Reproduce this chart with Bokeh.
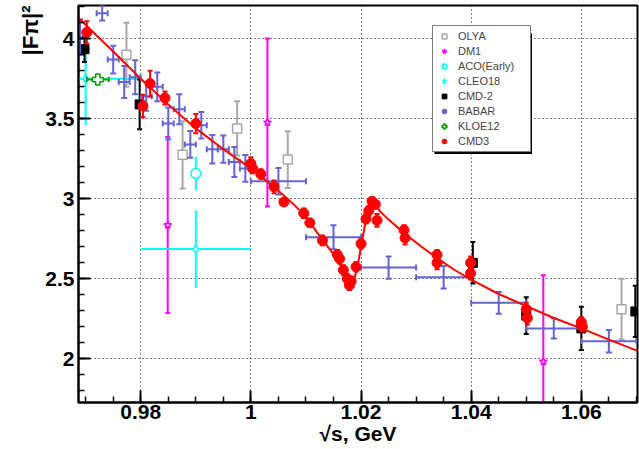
from bokeh.plotting import figure
from bokeh.models import (Range1d, Legend, LegendItem, BoxAnnotation, Title,
                          SingleIntervalTicker, CustomJSTickFormatter)
from bokeh.embed import file_html
from bokeh.resources import INLINE

# ---------------- data ----------------
cmd3_x = [0.9702, 0.9804, 0.9817, 0.9844, 0.9900, 1.0000, 1.0003, 1.0018, 1.0042, 1.0060,
          1.0096, 1.0107, 1.0130, 1.0157, 1.0161, 1.0168, 1.0175, 1.0179, 1.0182, 1.0191,
          1.0200, 1.0209, 1.0214, 1.0220, 1.0226, 1.0229, 1.0278, 1.0280, 1.0338, 1.0338,
          1.0399, 1.0399, 1.0500, 1.0502, 1.0600, 1.0602]
cmd3_y = [4.04, 3.58, 3.72, 3.63, 3.47, 3.22, 3.19, 3.155, 3.075, 2.98,
          2.91, 2.85, 2.74, 2.65, 2.625, 2.555, 2.50, 2.46, 2.485, 2.575,
          2.72, 2.875, 2.925, 2.985, 2.965, 2.865, 2.805, 2.755, 2.65, 2.60,
          2.60, 2.535, 2.31, 2.255, 2.23, 2.20]
cmd3_err = [0.07, 0.07, 0.08, 0.04, 0.06, 0.04, 0.03, 0.03, 0.04, 0.02,
            0.03, 0.02, 0.03, 0.03, 0.03, 0.03, 0.03, 0.03, 0.03, 0.03,
            0.03, 0.03, 0.03, 0.02, 0.02, 0.04, 0.03, 0.04, 0.03, 0.04,
            0.04, 0.04, 0.04, 0.04, 0.03, 0.03]

fit_x = [0.9687, 0.975, 0.980, 0.985, 0.990, 0.995, 1.000, 1.004, 1.007, 1.010,
         1.012, 1.014, 1.0155, 1.0165, 1.0172, 1.0178, 1.0183, 1.0188, 1.0193, 1.0198,
         1.0203, 1.0208, 1.0213, 1.0218, 1.0223, 1.0228, 1.0235, 1.025, 1.028, 1.031,
         1.034, 1.037, 1.040, 1.045, 1.050, 1.055, 1.060, 1.065, 1.0702]
fit_y = [4.13, 3.92, 3.75, 3.59, 3.44, 3.31, 3.19, 3.08, 2.99, 2.89,
         2.79, 2.70, 2.63, 2.57, 2.51, 2.47, 2.46, 2.50, 2.57, 2.66,
         2.76, 2.85, 2.92, 2.965, 2.975, 2.955, 2.92, 2.87, 2.78, 2.70,
         2.625, 2.555, 2.495, 2.405, 2.33, 2.255, 2.19, 2.12, 2.05]

babar_x = [0.969, 0.973, 0.975, 0.977, 0.979, 0.981, 0.983, 0.985, 0.987, 0.989,
           0.991, 0.993, 0.995, 0.997, 0.999, 1.005, 1.015, 1.025, 1.035, 1.045,
           1.055, 1.065]
babar_y = [4.01, 4.16, 3.87, 3.73, 3.76, 3.64, 3.70, 3.47, 3.56, 3.34,
           3.46, 3.31, 3.31, 3.23, 3.19, 3.11, 2.76, 2.57, 2.51, 2.35,
           2.19, 2.11]
babar_xerr = [0.001] * 15 + [0.005] * 7
babar_yerr = [0.11, 0.045, 0.087, 0.10, 0.106, 0.09, 0.09, 0.10, 0.094, 0.083,
              0.083, 0.089, 0.085, 0.094, 0.083, 0.083, 0.075, 0.07, 0.07, 0.068,
              0.063, 0.07]

olya_x = [0.9774, 0.9876, 0.9975, 1.0067, 1.0673]
olya_y = [3.90, 3.275, 3.44, 3.245, 2.31]
olya_err = [0.20, 0.21, 0.17, 0.177, 0.19]

cmd2_x = [0.9698, 0.9798, 1.0403, 1.0500, 1.0600, 1.0698]
cmd2_y = [3.935, 3.59, 2.60, 2.27, 2.19, 2.296]
cmd2_err = [0.08, 0.156, 0.13, 0.115, 0.135, 0.16]

dm1_x = [0.9849, 1.0030, 1.0531]
dm1_y = [2.836, 3.477, 1.983]
dm1_err = [0.55, 0.525, 0.54]

aco_x = [0.990]
aco_y = [3.158]
aco_err = [0.105]

cleo_x = [0.970, 0.990]
cleo_y = [3.75, 2.686]
cleo_xerr = [0.010, 0.010]
cleo_yerr = [0.29, 0.243]

kloe_x = [0.9722]
kloe_y = [3.745]
kloe_xerr = [0.002]
kloe_yerr = [0.01]

legend_labels = ["OLYA", "DM1", "ACO(Early)", "CLEO18", "CMD-2", "BABAR", "KLOE12", "CMD3"]

# ---------------- layout ----------------
X0, X1 = 0.9687, 1.0702
Y0, Y1 = 1.727, 4.208
W, H = 639, 449
BL, BR, BT, BB = 78, 2, 5, 47
FW = W - BL - BR
FH = H - BT - BB
DX = (X1 - X0) / FW   # data per pixel
DY = (Y1 - Y0) / FH


def px2x(px):
    return X0 + (px - BL) * DX


def py2y(py):
    return Y1 - (py - BT) * DY


p = figure(width=W, height=H, output_backend="svg", toolbar_location=None,
           x_range=Range1d(X0, X1), y_range=Range1d(Y0, Y1),
           min_border_left=BL, min_border_right=BR, min_border_top=BT,
           min_border_bottom=BB, title=None)
p.background_fill_color = "white"
p.border_fill_color = "white"
p.outline_line_color = "black"
p.outline_line_width = 2

fmt = CustomJSTickFormatter(code="return Number(tick.toFixed(3)).toString();")
p.xaxis.ticker = SingleIntervalTicker(interval=0.02, num_minor_ticks=4)
p.yaxis.ticker = SingleIntervalTicker(interval=0.5, num_minor_ticks=5)
for ax in (p.xaxis[0], p.yaxis[0]):
    ax.formatter = fmt
    ax.axis_line_width = 2
    ax.axis_line_color = "black"
    ax.major_tick_in = 12
    ax.major_tick_out = 0
    ax.minor_tick_in = 6
    ax.minor_tick_out = 0
    ax.major_tick_line_width = 2
    ax.minor_tick_line_width = 1.5
    ax.major_label_text_font = "Liberation Sans"
    ax.major_label_text_font_style = "bold"
    ax.major_label_text_font_size = "21px"
    ax.major_label_text_color = "black"
    ax.axis_label_text_font = "Liberation Sans"
    ax.axis_label_text_font_style = "bold"
    ax.axis_label_text_font_size = "21px"
    ax.axis_label_text_color = "black"
p.xaxis.major_label_standoff = 2
p.yaxis.major_label_standoff = 4
p.yaxis.major_label_text_align = "right"
p.yaxis.major_label_text_baseline = "middle"
p.xaxis.axis_label = "√s, GeV"
p.xaxis.axis_label_standoff = 0

ytitle = Title(text="|Fπ|²", align="right", text_font="Liberation Sans",
               text_font_style="bold", text_font_size="22px", text_color="black",
               standoff=0, offset=0)
p.add_layout(ytitle, "left")

for g in (p.xgrid[0], p.ygrid[0]):
    g.grid_line_color = "black"
    g.grid_line_dash = "1 3"
    g.grid_line_width = 1


def errbars(xs, ys, color, ylo=None, yhi=None, xlo=None, xhi=None, width=2, cap=6):
    cw = cap / 2 * DX
    ch = cap / 2 * DY
    if ylo is not None:
        y0 = [y - e for y, e in zip(ys, ylo)]
        y1 = [y + e for y, e in zip(ys, yhi)]
        p.segment(x0=xs, y0=y0, x1=xs, y1=y1, line_color=color, line_width=width)
        if cap:
            p.segment(x0=[x - cw for x in xs], y0=y0, x1=[x + cw for x in xs], y1=y0,
                      line_color=color, line_width=width)
            p.segment(x0=[x - cw for x in xs], y0=y1, x1=[x + cw for x in xs], y1=y1,
                      line_color=color, line_width=width)
    if xlo is not None:
        x0 = [x - e for x, e in zip(xs, xlo)]
        x1 = [x + e for x, e in zip(xs, xhi)]
        p.segment(x0=x0, y0=ys, x1=x1, y1=ys, line_color=color, line_width=width)
        if cap:
            p.segment(x0=x0, y0=[y - ch for y in ys], x1=x0, y1=[y + ch for y in ys],
                      line_color=color, line_width=width)
            p.segment(x0=x1, y0=[y - ch for y in ys], x1=x1, y1=[y + ch for y in ys],
                      line_color=color, line_width=width)


GRAY = "#a8a8a8"
BLUE = "#6464d2"
CYAN = "#00ffff"
MAG = "#ff00ff"
GREEN = "#00a000"
RED = "#ff0000"

# OLYA
errbars(olya_x, olya_y, GRAY, olya_err, olya_err, cap=6)
r_olya = p.scatter(olya_x, olya_y, marker="square", size=9, fill_color="white",
                   line_color=GRAY, line_width=1.5)
# DM1
errbars(dm1_x, dm1_y, MAG, dm1_err, dm1_err, cap=5)
r_dm1 = p.scatter(dm1_x, dm1_y, marker="star", size=8, fill_color="white",
                  line_color=MAG, line_width=1.5)
# CLEO18
errbars(cleo_x, cleo_y, CYAN, cleo_yerr, cleo_yerr, cleo_xerr, cleo_xerr, cap=0)
r_cleo = p.scatter(cleo_x, cleo_y, marker="diamond", size=8, fill_color="white",
                   line_color=CYAN, line_width=1.5)
# ACO
errbars(aco_x, aco_y, CYAN, aco_err, aco_err, cap=0)
r_aco = p.scatter(aco_x, aco_y, marker="circle", size=10, fill_color="white",
                  line_color=CYAN, line_width=1.5)
# CMD-2
errbars(cmd2_x, cmd2_y, "black", cmd2_err, cmd2_err, cap=5)
r_cmd2 = p.scatter(cmd2_x, cmd2_y, marker="square", size=9, fill_color="black",
                   line_color="black")
# BABAR
errbars(babar_x, babar_y, BLUE, babar_yerr, babar_yerr, babar_xerr, babar_xerr, cap=6)
r_babar = p.scatter(babar_x, babar_y, marker="circle", size=2, fill_color=BLUE,
                    line_color=BLUE)
# KLOE12
errbars(kloe_x, kloe_y, GREEN, kloe_yerr, kloe_yerr, kloe_xerr, kloe_xerr, cap=5)
r_kloe = p.scatter(kloe_x, kloe_y, marker="plus", size=11, fill_color="white",
                   line_color=GREEN, line_width=1.5)
# CMD3
errbars(cmd3_x, cmd3_y, RED, cmd3_err, cmd3_err, cap=5)
r_cmd3 = p.scatter(cmd3_x, cmd3_y, marker="circle", size=10, fill_color=RED,
                   line_color=RED)
p.line(fit_x, fit_y, line_color=RED, line_width=2)

# legend shadow + legend
shadow = BoxAnnotation(left=px2x(434), right=px2x(531.5), top=py2y(33), bottom=py2y(153.5),
                       fill_color="black", fill_alpha=1.0, line_alpha=0)
p.add_layout(shadow)
items = [LegendItem(label=l, renderers=[r]) for l, r in zip(
    legend_labels, [r_olya, r_dm1, r_aco, r_cleo, r_cmd2, r_babar, r_kloe, r_cmd3])]
legend = Legend(items=items, location=(354, 250), orientation="vertical")
legend.label_text_font = "Liberation Sans"
legend.label_text_font_size = "11px"
legend.glyph_width = 14
legend.glyph_height = 12
legend.label_height = 12
legend.label_width = 68
legend.label_standoff = 7
legend.spacing = 3
legend.padding = 4
legend.margin = 0
legend.border_line_color = "black"
legend.border_line_width = 1.5
legend.background_fill_color = "white"
legend.background_fill_alpha = 1.0
p.add_layout(legend)

open("out.html", "w").write(file_html(p, INLINE))
